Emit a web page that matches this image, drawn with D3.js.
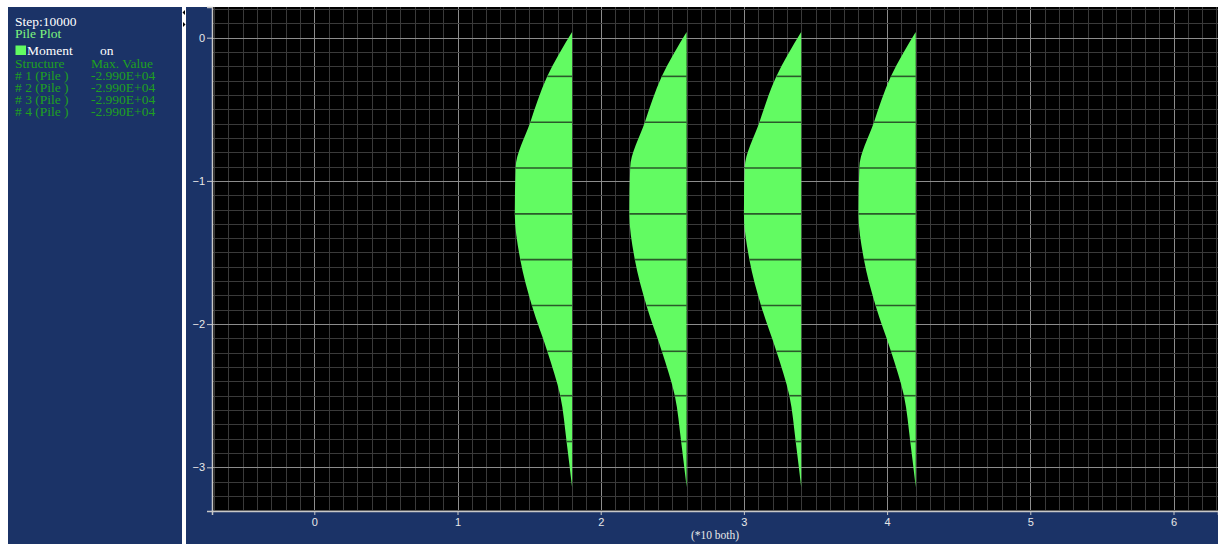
<!DOCTYPE html>
<html>
<head>
<meta charset="utf-8">
<script src="https://cdn.jsdelivr.net/npm/d3@7"></script>
<style>
  html, body { margin: 0; padding: 0; background: #ffffff; }
  svg { display: block; }
</style>
</head>
<body>
<svg id="chart" width="1218" height="544"></svg>
<script>
// ---------------- data ----------------
const stepLabel = "Step:10000";
const plotTitle = "Pile Plot";
const structures = ["# 1 (Pile )", "# 2 (Pile )", "# 3 (Pile )", "# 4 (Pile )"];
const maxValues = ["-2.990E+04", "-2.990E+04", "-2.990E+04", "-2.990E+04"];
// pile positions (x, *10 units)
const pileX = [1.8, 2.6, 3.4, 4.2];
// node elevations along the pile (*10 units)
const nodeElev = [0.04, -0.27, -0.59, -0.91, -1.23, -1.55, -1.87, -2.19, -2.50, -2.82, -3.14];
// bending moment at each node
const moment = [0, -12940, -21810, -29480, -29900, -27030, -20980, -12940, -6160, -2870, 0];
const momentMax = -29900;
const momentPlotWidth = 0.4; // plot width of the max moment (*10 units)
const xTicks = [0, 1, 2, 3, 4, 5, 6];
const yTicks = [0, -1, -2, -3];
const xDomain = [-0.7144, 6.3107];
const yDomain = [0.2144, -3.3052];

// ---------------- layout ----------------
const W = 1218, H = 544;
const blue = "#1b3367";
const plot = { left: 212, right: 1218, top: 7, bottom: 511 };
const svg = d3.select("#chart");

svg.append("rect").attr("x", 0).attr("y", 0).attr("width", W).attr("height", H).attr("fill", "#ffffff");
// left info panel
svg.append("rect").attr("x", 8).attr("y", 7).attr("width", 174).attr("height", H - 7).attr("fill", blue);
// axis area
svg.append("rect").attr("x", 186).attr("y", 7).attr("width", W - 186).attr("height", H - 7).attr("fill", blue);
// small splitter arrows
svg.append("path").attr("d", "M182.5,12.5 L185,10 L185,15 Z").attr("fill", "#000");
svg.append("path").attr("d", "M185.5,24.5 L183,22 L183,27 Z").attr("fill", "#000");

// plot background
svg.append("rect").attr("x", plot.left).attr("y", plot.top)
  .attr("width", plot.right - plot.left).attr("height", plot.bottom - plot.top).attr("fill", "#000000");

const x = d3.scaleLinear().domain(xDomain).range([plot.left, plot.right]);
const y = d3.scaleLinear().domain(yDomain).range([plot.top, plot.bottom]);
const mScale = d3.scaleLinear().domain([0, momentMax]).range([0, -momentPlotWidth]);

// grid
const grid = svg.append("g").attr("shape-rendering", "crispEdges");
const xi0 = Math.ceil(xDomain[0] * 10), xi1 = Math.floor(xDomain[1] * 10);
const vLines = d3.range(xi0, xi1 + 1);
grid.selectAll("line.v").data(vLines).enter().append("line")
  .attr("x1", d => Math.round(x(d / 10)) + 0.5).attr("x2", d => Math.round(x(d / 10)) + 0.5)
  .attr("y1", plot.top).attr("y2", plot.bottom)
  .attr("stroke", d => d % 10 === 0 ? "#8c8c8c" : "#3a3a3a").attr("stroke-width", 1);
const yi0 = Math.ceil(yDomain[1] * 10), yi1 = Math.floor(yDomain[0] * 10);
const hLines = d3.range(yi0, yi1 + 1);
grid.selectAll("line.h").data(hLines).enter().append("line")
  .attr("y1", d => Math.round(y(d / 10)) + 0.5).attr("y2", d => Math.round(y(d / 10)) + 0.5)
  .attr("x1", plot.left).attr("x2", plot.right)
  .attr("stroke", d => d % 10 === 0 ? "#8c8c8c" : "#3a3a3a").attr("stroke-width", 1);

// piles
const nodes = nodeElev.map((e, i) => ({ e, m: moment[i] }));
const piles = svg.append("g");
pileX.forEach(px => {
  const area = d3.area()
    .y(d => y(d.e))
    .x0(x(px))
    .x1(d => x(px + mScale(d.m)))
    .curve(d3.curveMonotoneY);
  piles.append("path").datum(nodes).attr("d", area).attr("fill", "#62fb62");
  piles.selectAll(null).data(nodes.slice(1, -1)).enter().append("line")
    .attr("x1", d => x(px + mScale(d.m))).attr("x2", x(px))
    .attr("y1", d => y(d.e)).attr("y2", d => y(d.e))
    .attr("stroke", "#2a5a2a").attr("stroke-width", 1.6);
});

// axes
const axisColor = "#c8c8c8";
const yAxis = svg.append("g").attr("transform", `translate(${plot.left},0)`)
  .call(d3.axisLeft(y).tickValues(yTicks).tickSize(5).tickPadding(2).tickFormat(d3.format("d")));
const xAxis = svg.append("g").attr("transform", `translate(0,${plot.bottom})`)
  .call(d3.axisBottom(x).tickValues(xTicks).tickSize(4).tickPadding(3).tickFormat(d3.format("d")));
[yAxis, xAxis].forEach(a => {
  a.select(".domain").attr("stroke", axisColor).attr("stroke-width", 1.5);
  a.selectAll(".tick line").attr("stroke", axisColor);
  a.selectAll(".tick text").attr("fill", "#e8e8e8")
    .style("font-family", "'Liberation Sans', Arial, sans-serif").style("font-size", "11px");
});
svg.append("text").attr("x", 715).attr("y", 539).attr("text-anchor", "middle")
  .attr("fill", "#e8e8e8").style("font-family", "'Liberation Serif', 'Times New Roman', serif")
  .style("font-size", "11.5px").text("(*10 both)");

// info panel text
const font = "'Liberation Serif', 'Times New Roman', serif";
const info = svg.append("g").style("font-family", font).style("font-size", "13.5px");
info.append("text").attr("x", 15).attr("y", 25.5).attr("fill", "#ffffff").text(stepLabel);
info.append("text").attr("x", 15).attr("y", 38).attr("fill", "#7ef57e").text(plotTitle);
info.append("rect").attr("x", 15.5).attr("y", 45.5).attr("width", 10.5).attr("height", 9.5).attr("fill", "#62fb62");
info.append("text").attr("x", 27).attr("y", 54.5).attr("fill", "#ffffff").text("Moment");
info.append("text").attr("x", 100).attr("y", 54.5).attr("fill", "#ffffff").text("on");
const dark = "#1fa01f";
info.append("text").attr("x", 15).attr("y", 67.5).attr("fill", dark).text("Structure");
info.append("text").attr("x", 91).attr("y", 67.5).attr("fill", dark).text("Max. Value");
structures.forEach((s, i) => {
  info.append("text").attr("x", 15).attr("y", 80 + i * 12).attr("fill", dark).text(s);
  info.append("text").attr("x", 91).attr("y", 80 + i * 12).attr("fill", dark).text(maxValues[i]);
});
</script>
</body>
</html>
